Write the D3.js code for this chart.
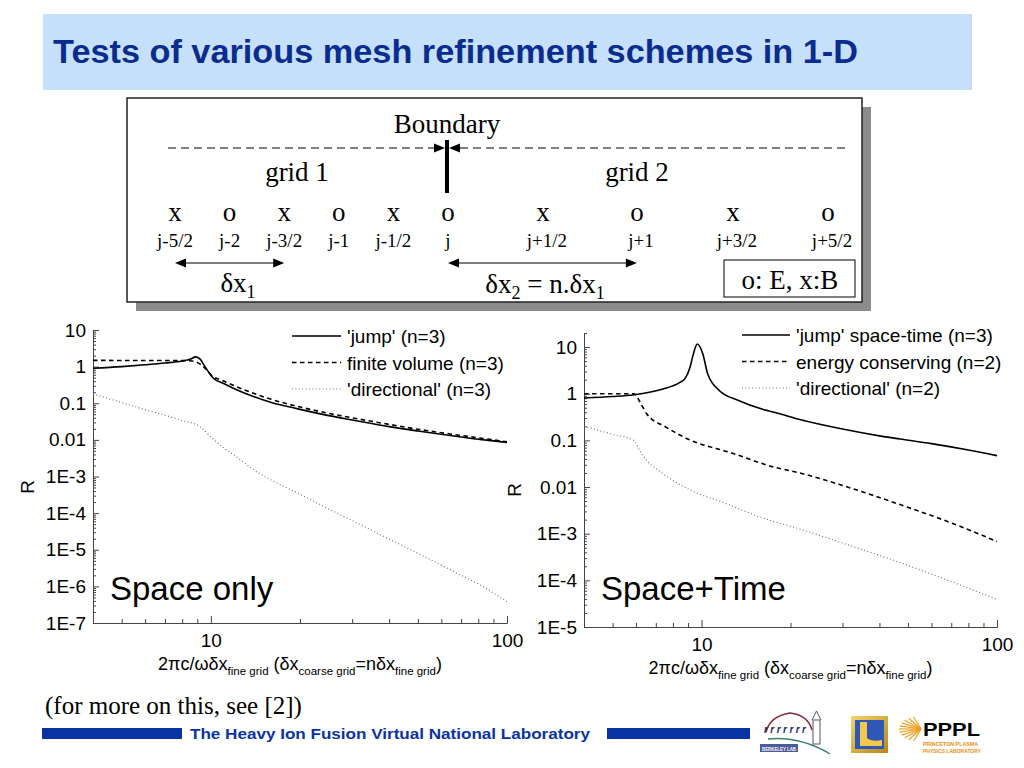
<!DOCTYPE html>
<html>
<head>
<meta charset="utf-8">
<script src="https://cdnjs.cloudflare.com/ajax/libs/d3/7.8.5/d3.min.js"></script>
<style>
body { margin: 0; background: #fff; }
svg { display: block; }
</style>
</head>
<body>
<script>

var sans = "'Liberation Sans', Arial, Helvetica, sans-serif";
var serif = "'Liberation Serif', 'Times New Roman', serif";

// ---- data ----
var xDomain = [4, 100];
var xMajor = [10, 100];

// left panel, space only
var spaceJumpX = [4, 5, 6, 7, 8, 8.5, 8.9, 9.2, 9.55, 9.9, 10.2, 11, 12, 14, 16, 18.5, 20, 25, 30, 40, 50, 60, 70, 80, 90, 100];
var spaceJumpR = [0.9, 1.0, 1.12, 1.25, 1.42, 1.58, 1.85, 1.6, 1.0, 0.65, 0.48, 0.35, 0.25, 0.15, 0.105, 0.079, 0.068, 0.046, 0.035, 0.023, 0.0175, 0.0142, 0.012, 0.0104, 0.0094, 0.0085];
var spaceFvX = [4, 6, 8, 8.5, 9.0, 9.5, 10.1, 11, 12, 14, 16, 20, 25, 30, 40, 50, 60, 70, 80, 90, 100];
var spaceFvR = [1.48, 1.47, 1.46, 1.44, 1.3, 0.95, 0.56, 0.41, 0.3, 0.185, 0.128, 0.079, 0.053, 0.04, 0.0265, 0.0195, 0.0157, 0.0132, 0.0114, 0.01, 0.0089];
var spaceDirX = [4, 5, 6, 7, 8, 9.2, 10, 11, 12, 14, 16, 20, 25, 30, 40, 50, 60, 70, 80, 90, 100];
var spaceDirR = [0.18, 0.104, 0.067, 0.047, 0.034, 0.023, 0.012, 0.0062, 0.0038, 0.0015, 8e-4, 3.3e-4, 1.3e-4, 6.3e-5, 1.95e-5, 8e-6, 3.8e-6, 2e-6, 1.17e-6, 6.6e-7, 3.8e-7];
var spaceNames = ["'jump' (n=3)", "finite volume (n=3)", "'directional' (n=3)"];
var spaceYTicks = [1e-7, 1e-6, 1e-5, 1e-4, 1e-3, 0.01, 0.1, 1, 10];

// right panel, space+time
var stJumpX = [4, 5, 5.9, 7.4, 8.45, 8.79, 9.14, 9.38, 9.67, 10.1, 10.5, 11.5, 13.4, 16, 18.4, 21.5, 30, 40, 47, 60, 80, 100];
var stJumpR = [0.81, 0.87, 0.95, 1.26, 1.75, 2.1, 3.7, 7.1, 11.6, 7.1, 2.6, 1.16, 0.71, 0.47, 0.37, 0.28, 0.175, 0.125, 0.107, 0.085, 0.062, 0.047];
var stEcX = [4, 5.9, 6.2, 6.5, 7.6, 9.2, 12.5, 17.5, 21.5, 30, 47, 70, 100];
var stEcR = [1.0, 1.0, 0.65, 0.38, 0.19, 0.1, 0.055, 0.027, 0.02, 0.0108, 0.0042, 0.0017, 6.8e-4];
var stDirX = [4, 5, 5.9, 6.2, 6.5, 7.2, 8.9, 12, 16, 21.5, 30, 47, 70, 100];
var stDirR = [0.2, 0.135, 0.1, 0.058, 0.038, 0.022, 0.0094, 0.0045, 0.0022, 0.00126, 6.3e-4, 2.4e-4, 9.4e-5, 3.9e-5];
var stNames = ["'jump' space-time (n=3)", "energy conserving (n=2)", "'directional' (n=2)"];
var stYTicks = [1e-5, 1e-4, 1e-3, 0.01, 0.1, 1, 10];

// grid diagram
var nodeSymbols = ["x", "o", "x", "o", "x", "o", "x", "o", "x", "o"];
var nodeLabels = ["j-5/2", "j-2", "j-3/2", "j-1", "j-1/2", "j", "j+1/2", "j+1", "j+3/2", "j+5/2"];
var nodePos = [-5, -4, -3, -2, -1, 0, 1.74, 3.46, 5.22, 6.96];

var styles = [
    { dash: null, color: "#000", width: 1.6 },
    { dash: "4.5,3.5", color: "#000", width: 1.6 },
    { dash: "1,2.4", color: "#777", width: 1.2 }
];

var svg = d3.select("body").append("svg")
    .attr("width", 1024)
    .attr("height", 768)
    .style("font-family", sans);

// ---- title band ----
svg.append("rect")
    .attr("x", 43).attr("y", 14)
    .attr("width", 929).attr("height", 76)
    .attr("fill", "#c6e0fb");

svg.append("text")
    .attr("x", 53).attr("y", 63)
    .attr("font-size", 34)
    .attr("font-weight", "bold")
    .attr("fill", "#0a2c8e")
    .attr("textLength", 805)
    .attr("lengthAdjust", "spacingAndGlyphs")
    .text("Tests of various mesh refinement schemes in 1-D");

// ---- diagram ----
function drawDiagram() {
    var g = svg.append("g");
    g.append("rect").attr("x", 136).attr("y", 107).attr("width", 735).attr("height", 204).attr("fill", "#8c8c8c");
    g.append("rect").attr("x", 127).attr("y", 98).attr("width", 735).attr("height", 204)
        .attr("fill", "#fff").attr("stroke", "#222").attr("stroke-width", 1.5);

    var nx = d3.scaleLinear().domain([-5, 6.96]).range([175, 828]);
    var bx = nx(0) - 1;

    function txt(x, y, s, size) {
        return g.append("text").attr("x", x).attr("y", y)
            .attr("text-anchor", "middle")
            .attr("font-family", serif)
            .attr("font-size", size)
            .text(s);
    }

    function head(x, y, dir) {
        // filled arrow head, tip at x
        g.append("path")
            .attr("d", "M" + x + "," + y + "L" + (x - dir * 11) + "," + (y - 4.5) + "L" + (x - dir * 11) + "," + (y + 4.5) + "Z")
            .attr("fill", "#000");
    }

    txt(bx, 133, "Boundary", 27);
    g.append("line").attr("x1", 168).attr("x2", bx - 6).attr("y1", 148).attr("y2", 148)
        .attr("stroke", "#000").attr("stroke-dasharray", "8,5");
    g.append("line").attr("x1", 845).attr("x2", bx + 6).attr("y1", 148).attr("y2", 148)
        .attr("stroke", "#000").attr("stroke-dasharray", "8,5");
    head(bx - 2, 148, 1);
    head(bx + 2, 148, -1);
    g.append("line").attr("x1", bx).attr("x2", bx).attr("y1", 140).attr("y2", 193)
        .attr("stroke", "#000").attr("stroke-width", 4);

    txt(297, 181, "grid 1", 27);
    txt(637, 181, "grid 2", 27);

    nodePos.forEach(function(p, i) {
        txt(nx(p), 221, nodeSymbols[i], 27);
        txt(nx(p) + (i > 5 ? 4 : 0), 247, nodeLabels[i], 19);
    });

    function dbl(x1, x2, y) {
        g.append("line").attr("x1", x1 + 6).attr("x2", x2 - 6).attr("y1", y).attr("y2", y)
            .attr("stroke", "#000").attr("stroke-width", 1.2);
        head(x1, y, -1);
        head(x2, y, 1);
    }
    dbl(nx(-5), nx(-3), 263);
    dbl(nx(0), nx(3.46), 263);

    var t1 = txt(238, 292, "", 27);
    t1.append("tspan").text("\u03b4x");
    t1.append("tspan").attr("font-size", 18).attr("dy", 6).text("1");

    var t2 = txt(545, 293, "", 27);
    t2.append("tspan").text("\u03b4x");
    t2.append("tspan").attr("font-size", 18).attr("dy", 6).text("2");
    t2.append("tspan").attr("dy", -6).text(" = n.\u03b4x");
    t2.append("tspan").attr("font-size", 18).attr("dy", 6).text("1");

    g.append("rect").attr("x", 724).attr("y", 260).attr("width", 131).attr("height", 37)
        .attr("fill", "#fff").attr("stroke", "#000").attr("stroke-width", 1);
    txt(790, 289, "o: E, x:B", 27);
}
drawDiagram();

// ---- log panels ----
function fmtR(v) {
    if (v >= 0.01) return d3.format("~g")(v);
    return "1E" + Math.round(Math.log10(v));
}

function minorTicks(lo, hi) {
    var out = [];
    for (var e = Math.floor(Math.log10(lo)); e <= Math.ceil(Math.log10(hi)); e++) {
        for (var m = 2; m <= 9; m++) {
            var v = m * Math.pow(10, e);
            if (v > lo * 1.0001 && v < hi * 1.0001) out.push(v);
        }
    }
    return out;
}

function zip(xs, ys) {
    return xs.map(function(v, i) { return [v, ys[i]]; });
}

function drawPanel(p) {
    var x = d3.scaleLog().domain(xDomain).range([p.left, p.right]);
    var y = d3.scaleLog().domain(p.yDomain).range([p.bottom, p.top]);
    var g = svg.append("g");

    var yMinor = g.append("g").attr("transform", "translate(" + p.left + ",0)")
        .call(d3.axisLeft(y).tickValues(minorTicks(p.yDomain[0], p.yDomain[1]))
            .tickSizeInner(-3).tickSizeOuter(0).tickFormat(""));
    var yMajor = g.append("g").attr("transform", "translate(" + p.left + ",0)")
        .call(d3.axisLeft(y).tickValues(p.yTicks)
            .tickSizeInner(-6).tickSizeOuter(0).tickPadding(7).tickFormat(fmtR));
    var xMinor = g.append("g").attr("transform", "translate(0," + p.bottom + ")")
        .call(d3.axisBottom(x).tickValues(minorTicks(xDomain[0], xDomain[1]).filter(function(v) { return xMajor.indexOf(v) < 0; }))
            .tickSizeInner(-4).tickSizeOuter(0).tickFormat(""));
    var xAx = g.append("g").attr("transform", "translate(0," + p.bottom + ")")
        .call(d3.axisBottom(x).tickValues(xMajor)
            .tickSizeInner(-7).tickSizeOuter(0).tickPadding(7).tickFormat(d3.format("d")));

    [yMinor, yMajor, xMinor, xAx].forEach(function(a) {
        a.selectAll("path, line").attr("stroke", "#444");
        a.selectAll("text").attr("font-family", sans).attr("font-size", 19).attr("fill", "#000");
    });
    xAx.selectAll("text").attr("dy", "0.9em");

    var line = d3.line()
        .x(function(d) { return x(d[0]); })
        .y(function(d) { return y(d[1]); })
        .curve(d3.curveMonotoneX);

    p.series.forEach(function(s, i) {
        var st = styles[i];
        g.append("path")
            .attr("d", line(s))
            .attr("fill", "none")
            .attr("stroke", st.color)
            .attr("stroke-width", st.width)
            .attr("stroke-dasharray", st.dash);

        var ly = p.legendY + i * 26.5;
        g.append("line")
            .attr("x1", p.legendX).attr("x2", p.legendX + p.legendLen)
            .attr("y1", ly).attr("y2", ly)
            .attr("stroke", st.color)
            .attr("stroke-width", st.width)
            .attr("stroke-dasharray", st.dash);
        g.append("text")
            .attr("x", p.legendX + p.legendLen + 6).attr("y", ly + 7)
            .attr("font-size", 19)
            .text(p.names[i]);
    });

    g.append("text")
        .attr("transform", "translate(" + p.rX + "," + p.rY + ") rotate(-90)")
        .attr("text-anchor", "middle")
        .attr("font-size", 19)
        .text("R");

    g.append("text")
        .attr("x", p.left + 17).attr("y", 600)
        .attr("font-size", 33)
        .text(p.caption);

    var xt = g.append("text")
        .attr("x", (p.left + p.right) / 2).attr("y", p.bottom + 47)
        .attr("text-anchor", "middle")
        .attr("font-size", 18);
    xt.append("tspan").text("2\u03c0c/\u03c9\u03b4x");
    xt.append("tspan").attr("font-size", 11.5).attr("dy", 5).text("fine grid");
    xt.append("tspan").attr("dy", -5).text(" (\u03b4x");
    xt.append("tspan").attr("font-size", 11.5).attr("dy", 5).text("coarse grid");
    xt.append("tspan").attr("dy", -5).text("=n\u03b4x");
    xt.append("tspan").attr("font-size", 11.5).attr("dy", 5).text("fine grid");
    xt.append("tspan").attr("dy", -5).text(")");
}

drawPanel({
    left: 93, right: 507, top: 330, bottom: 623,
    yDomain: [1e-7, 10], yTicks: spaceYTicks,
    series: [zip(spaceJumpX, spaceJumpR), zip(spaceFvX, spaceFvR), zip(spaceDirX, spaceDirR)],
    names: spaceNames,
    legendX: 292, legendLen: 49, legendY: 336,
    rX: 34, rY: 487,
    caption: "Space only"
});

drawPanel({
    left: 584, right: 997, top: 333, bottom: 627,
    yDomain: [1e-5, 20], yTicks: stYTicks,
    series: [zip(stJumpX, stJumpR), zip(stEcX, stEcR), zip(stDirX, stDirR)],
    names: stNames,
    legendX: 742, legendLen: 48, legendY: 335,
    rX: 521, rY: 490,
    caption: "Space+Time"
});

// ---- footer ----
svg.append("text")
    .attr("x", 45).attr("y", 714)
    .attr("font-family", serif)
    .attr("font-size", 25)
    .text("(for more on this, see [2])");

svg.append("rect").attr("x", 42).attr("y", 728).attr("width", 140).attr("height", 11).attr("fill", "#0a33a3");
svg.append("rect").attr("x", 607).attr("y", 728).attr("width", 143).attr("height", 11).attr("fill", "#0a33a3");
svg.append("text")
    .attr("x", 190).attr("y", 738.5)
    .attr("font-size", 15)
    .attr("font-weight", "bold")
    .attr("fill", "#0a33a3")
    .attr("textLength", 400)
    .attr("lengthAdjust", "spacingAndGlyphs")
    .text("The Heavy Ion Fusion Virtual National Laboratory");

// logos, drawn roughly
var lg = svg.append("g");
// Berkeley Lab
lg.append("path").attr("d", "M766,732 Q770,716 790,713 Q808,715 812,730")
    .attr("fill", "none").attr("stroke", "#8b2a3a").attr("stroke-width", 1.6);
lg.append("text").attr("x", 764).attr("y", 733).attr("font-size", 10).attr("font-style", "italic")
    .attr("font-weight", "bold").attr("fill", "#1d2f6b").attr("textLength", 42).text("rrrrrrr");
lg.append("rect").attr("x", 813).attr("y", 720).attr("width", 7).attr("height", 24)
    .attr("fill", "none").attr("stroke", "#556").attr("stroke-width", 1);
lg.append("path").attr("d", "M812,720 L816.5,711 L821,720").attr("fill", "none").attr("stroke", "#556");
lg.append("path").attr("d", "M768,739 Q800,736 830,754").attr("fill", "none").attr("stroke", "#3b7f70").attr("stroke-width", 1.4);
lg.append("rect").attr("x", 760).attr("y", 744).attr("width", 38).attr("height", 8).attr("fill", "#4d5c98");
lg.append("text").attr("x", 762).attr("y", 750.5).attr("font-size", 5.5)
    .attr("font-weight", "bold").attr("fill", "#fff")
    .attr("textLength", 34).attr("lengthAdjust", "spacingAndGlyphs").text("BERKELEY LAB");
// LLNL
var grad = svg.append("defs").append("linearGradient").attr("id", "gold")
    .attr("x1", 0).attr("y1", 0).attr("x2", 1).attr("y2", 1);
grad.append("stop").attr("offset", 0).attr("stop-color", "#f3d56a");
grad.append("stop").attr("offset", 1).attr("stop-color", "#b9861a");
lg.append("rect").attr("x", 851).attr("y", 716).attr("width", 37).attr("height", 37).attr("fill", "url(#gold)");
lg.append("rect").attr("x", 855).attr("y", 720).attr("width", 29).attr("height", 29).attr("fill", "#2f58b6");
lg.append("path").attr("d", "M860,722 L867,722 L867,738 Q872,742 882,740 L882,746 L860,746 Z").attr("fill", "#f2c94c");
// PPPL
var sun = lg.append("g").attr("transform", "translate(921,729)");
d3.range(-70, 71, 14).forEach(function(a) {
    var r = a * Math.PI / 180;
    sun.append("line").attr("x1", 0).attr("y1", 0)
        .attr("x2", -22 * Math.cos(r)).attr("y2", -13 * Math.sin(r))
        .attr("stroke", "#f0a020").attr("stroke-width", 1.2);
});
lg.append("text").attr("x", 923).attr("y", 736).attr("font-size", 19).attr("font-weight", "bold")
    .attr("textLength", 57).attr("lengthAdjust", "spacingAndGlyphs").text("PPPL");
lg.append("text").attr("x", 923).attr("y", 746).attr("font-size", 5.5).attr("font-weight", "bold").attr("fill", "#f08c10")
    .attr("textLength", 55).attr("lengthAdjust", "spacingAndGlyphs").text("PRINCETON PLASMA");
lg.append("text").attr("x", 923).attr("y", 753).attr("font-size", 5.5).attr("font-weight", "bold").attr("fill", "#f08c10")
    .attr("textLength", 58).attr("lengthAdjust", "spacingAndGlyphs").text("PHYSICS LABORATORY");

</script>
</body>
</html>
